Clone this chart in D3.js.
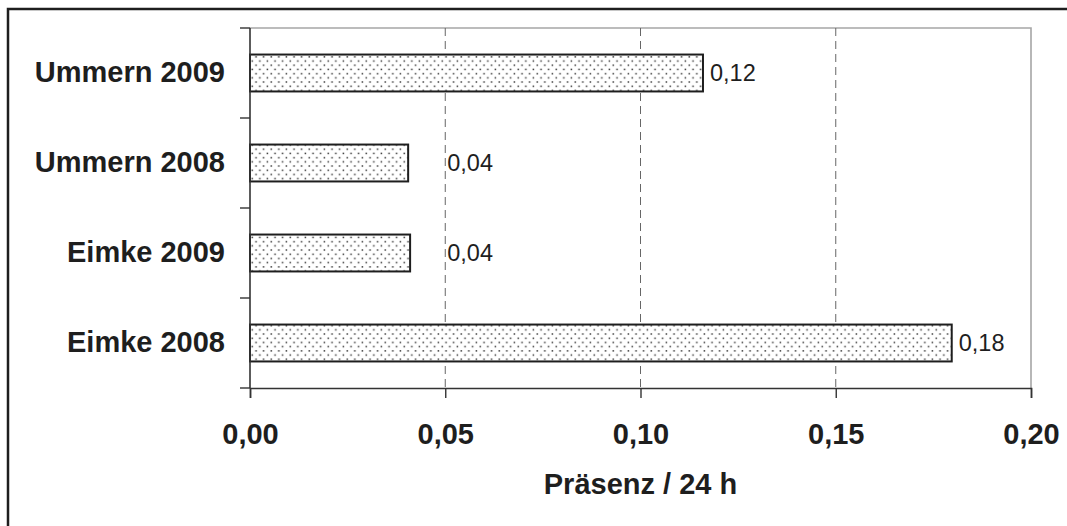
<!DOCTYPE html>
<html>
<head>
<meta charset="utf-8">
<script src="https://cdn.jsdelivr.net/npm/d3@7"></script>
<style>
  html, body { margin: 0; padding: 0; background: #fff; }
  svg { display: block; font-family: "Liberation Sans", Arial, sans-serif; }
</style>
</head>
<body>
<svg id="chart" width="1067" height="526"></svg>
<script>
const categories = ["Ummern 2009", "Ummern 2008", "Eimke 2009", "Eimke 2008"];
const values = [0.116, 0.0405, 0.0410, 0.1797];
const xTicks = [0, 0.05, 0.10, 0.15, 0.20];
const xTitle = "Präsenz / 24 h";

const svg = d3.select("#chart");
const m = { left: 250, right: 1031, top: 28, bottom: 388 };

const fmt = v => d3.format(".2f")(v).replace(".", ",");

// outer frame (clipped at right/bottom)
svg.append("rect").attr("x", 8).attr("y", 9).attr("width", 1100).attr("height", 600)
  .attr("fill", "#fff").attr("stroke", "#1e1e1e").attr("stroke-width", 2.5);

const defs = svg.append("defs");
const pat = defs.append("pattern").attr("id", "dots")
  .attr("patternUnits", "userSpaceOnUse").attr("width", 7.6).attr("height", 8.4)
  .attr("x", 250).attr("y", 0);
pat.append("rect").attr("width", 7.6).attr("height", 8.4).attr("fill", "#fff");
pat.append("rect").attr("x", 1.5).attr("y", 1.5).attr("width", 1.5).attr("height", 1.5).attr("fill", "#3a3a3a");
pat.append("rect").attr("x", 5.3).attr("y", 5.7).attr("width", 1.5).attr("height", 1.5).attr("fill", "#3a3a3a");

const x = d3.scaleLinear().domain([0, 0.20]).range([m.left, m.right]);
const y = d3.scaleBand().domain(categories).range([m.top, m.bottom])
  .paddingInner(0.59).paddingOuter(0.295);

// plot area border (top/right gray)
svg.append("path")
  .attr("d", `M${m.left},${m.top}H${m.right}V${m.bottom}`)
  .attr("fill", "none").attr("stroke", "#a6a6a6").attr("stroke-width", 1.6);

// gridlines
svg.append("g").selectAll("line").data(xTicks.filter(t => t > 0 && t < 0.20)).join("line")
  .attr("x1", d => x(d)).attr("x2", d => x(d))
  .attr("y1", m.top).attr("y2", m.bottom)
  .attr("stroke", "#666").attr("stroke-width", 1).attr("stroke-dasharray", "8,5");

// bars
svg.append("g").selectAll("rect").data(categories).join("rect")
  .attr("x", x(0))
  .attr("y", d => y(d))
  .attr("width", (d, i) => x(values[i]) - x(0))
  .attr("height", y.bandwidth())
  .attr("fill", "url(#dots)")
  .attr("stroke", "#1e1e1e").attr("stroke-width", 2);

// value labels
svg.append("g").selectAll("text").data(categories).join("text")
  .attr("x", (d, i) => Math.max(x(values[i]) + 7, x(0.05) + 2))
  .attr("y", d => y(d) + y.bandwidth() / 2)
  .attr("dy", "0.36em")
  .attr("font-size", 23.5).attr("fill", "#1e1e1e")
  .text((d, i) => fmt(values[i]));

// x axis
const xAxis = d3.axisBottom(x).tickValues(xTicks).tickSize(10).tickPadding(25)
  .tickFormat(fmt);
const gx = svg.append("g").attr("transform", `translate(0,${m.bottom})`).call(xAxis);
gx.select(".domain").attr("stroke", "#333").attr("stroke-width", 1.6);
gx.selectAll(".tick line").attr("stroke", "#333").attr("stroke-width", 1.4);
gx.selectAll(".tick text").attr("font-size", 29).attr("font-weight", "bold")
  .attr("fill", "#1e1e1e").attr("font-family", "Liberation Sans, Arial, sans-serif");

// y axis
const yAxis = d3.axisLeft(y).tickSize(0).tickPadding(25);
const gy = svg.append("g").attr("transform", `translate(${m.left},0)`).call(yAxis);
gy.select(".domain").remove();
gy.selectAll(".tick text").attr("font-size", 29).attr("font-weight", "bold")
  .attr("fill", "#1e1e1e").attr("font-family", "Liberation Sans, Arial, sans-serif");
// y axis line and ticks at band boundaries
const bounds = d3.range(categories.length + 1).map(i => m.top + i * y.step());
svg.append("line").attr("x1", m.left).attr("x2", m.left).attr("y1", m.top).attr("y2", m.bottom)
  .attr("stroke", "#333").attr("stroke-width", 1.6);
svg.append("g").selectAll("line").data(bounds).join("line")
  .attr("x1", m.left - 10).attr("x2", m.left).attr("y1", d => d).attr("y2", d => d)
  .attr("stroke", "#333").attr("stroke-width", 1.4);

// x title
svg.append("text").attr("x", (m.left + m.right) / 2).attr("y", 494)
  .attr("text-anchor", "middle").attr("font-size", 29).attr("font-weight", "bold")
  .attr("fill", "#1e1e1e").text(xTitle);
</script>
</body>
</html>
